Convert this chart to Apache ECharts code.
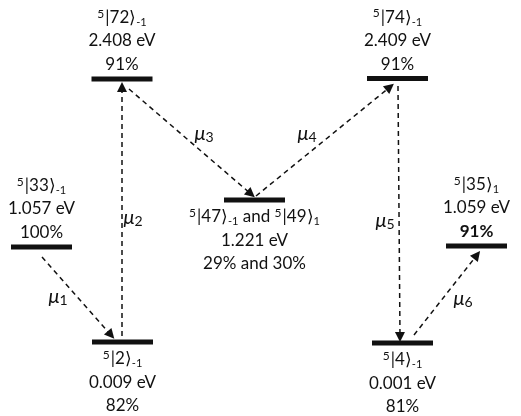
<!DOCTYPE html>
<html><head><meta charset="utf-8">
<script src="https://cdn.jsdelivr.net/npm/echarts@6/dist/echarts.min.js"></script>
<style>html,body{margin:0;padding:0;background:#fff}#c{width:521px;height:416px}</style>
</head><body><div id="c"></div>
<script>
// ---- data ----
const levelKet    = ['33', '72', '2', '47', '74', '4', '35'];
const levelSub    = ['-1', '-1', '-1', '-1', '-1', '-1', '1'];
const levelKet2   = [null, null, null, '49', null, null, null];
const levelSub2   = [null, null, null, '1', null, null, null];
const levelEnergy = ['1.057', '2.408', '0.009', '1.221', '2.409', '0.001', '1.059'];
const levelWeight = ['100%', '91%', '82%', '29% and 30%', '91%', '81%', '91%'];
const weightBold  = [false, false, false, false, false, false, true];
// schematic placement of each level (diagram units)
const levelX = [41.5, 122, 122.5, 254.5, 397.5, 402.5, 476.5];
const levelY = [247, 79, 342, 200, 78.5, 343, 246];
const labelAbove = [true, true, false, false, true, false, true];
// transitions
const transFrom = [0, 2, 1, 3, 4, 5];
const transTo   = [2, 1, 3, 4, 5, 6];
const transName = ['1', '2', '3', '4', '5', '6'];
// ---- layout ----
const startOff = [[0.5,10],[-0.5,-6],[7,10],[1.5,-4],[0.5,7.5],[11.5,-8]];
const endOff   = [[-11.5,-7],[0,8],[-3.5,-6],[-7.5,8.5],[-2.5,-6],[0.5,9]];
const muPos = [[58,297],[133,218],[204,134],[307,134],[385,221],[463,299]];

const FONT = 'Lato, "Liberation Sans", sans-serif';
const INK = '#111';
const rich = {
  m: {fontSize: 17, fontFamily: FONT, color: INK, lineHeight: 20},
  sup: {fontSize: 12, fontFamily: FONT, color: INK, lineHeight: 20, verticalAlign: 'top', padding:[0,1,7,0]},
  sub: {fontSize: 11, fontFamily: FONT, color: INK, lineHeight: 20, verticalAlign: 'bottom', padding:[8,0,0,0]},
  mu: {fontSize: 20, fontFamily: FONT, color: INK, fontStyle: 'italic', lineHeight: 20},
  msub: {fontSize: 14, fontFamily: FONT, color: INK, lineHeight: 20, verticalAlign: 'bottom', padding:[6,0,0,0]},
  b: {fontSize: 17, fontFamily: FONT, color: INK, fontWeight: 'bold', lineHeight: 20}
};
function ketText(k, s) { return '{sup|5}{m||' + k + '⟩}{sub|' + s + '}'; }

const levelData = levelX.map((x, i) => [x, levelY[i], i]);
const lineData = transFrom.map((f, i) => {
  const t = transTo[i];
  return {coords: [[levelX[f] + startOff[i][0], levelY[f] + startOff[i][1]],
                   [levelX[t] + endOff[i][0], levelY[t] + endOff[i][1]]]};
});
const muData = muPos.map((p, i) => [p[0], p[1], i]);

const chart = echarts.init(document.getElementById('c'));
chart.setOption({
  animation: false,
  grid: {left: 0, right: 0, top: 0, bottom: 0},
  xAxis: {type: 'value', min: 0, max: 521, show: false},
  yAxis: {type: 'value', min: 0, max: 416, inverse: true, show: false},
  series: [
    {
      type: 'lines', coordinateSystem: 'cartesian2d', data: lineData,
      symbol: ['none', 'triangle'], symbolSize: 10,
      lineStyle: {color: INK, width: 1.5, type: [5, 4], opacity: 1}, z: 2
    },
    {
      type: 'custom', data: levelData, z: 3,
      renderItem(params, api) {
        const i = api.value(2);
        const c = api.coord([api.value(0), api.value(1)]);
        const kids = [{type: 'rect', shape: {x: c[0] - 30.5, y: c[1] - 2.5, width: 61, height: 5}, style: {fill: '#111'}}];
        let ket = ketText(levelKet[i], levelSub[i]);
        if (levelKet2[i]) ket += '{m| and }' + ketText(levelKet2[i], levelSub2[i]);
        const en = '{m|' + levelEnergy[i] + ' eV}';
        const wt = weightBold[i] ? '{b|' + levelWeight[i] + '}' : '{m|' + levelWeight[i] + '}';
        const offs = labelAbove[i] ? [-61, -38, -14] : [17, 41, 64];
        [ket, en, wt].forEach((t, j) => {
          kids.push({type: 'text', x: c[0], y: c[1] + offs[j],
            style: {text: t, rich: rich, align: 'center', verticalAlign: 'middle', fill: INK}});
        });
        return {type: 'group', children: kids};
      }
    },
    {
      type: 'custom', data: muData, z: 4,
      renderItem(params, api) {
        const i = api.value(2);
        const c = api.coord([api.value(0), api.value(1)]);
        return {type: 'text', x: c[0], y: c[1],
          style: {text: '{mu|μ}{msub|' + transName[i] + '}', rich: rich, align: 'center', verticalAlign: 'middle', fill: INK}};
      }
    }
  ]
});
</script>
</body></html>
